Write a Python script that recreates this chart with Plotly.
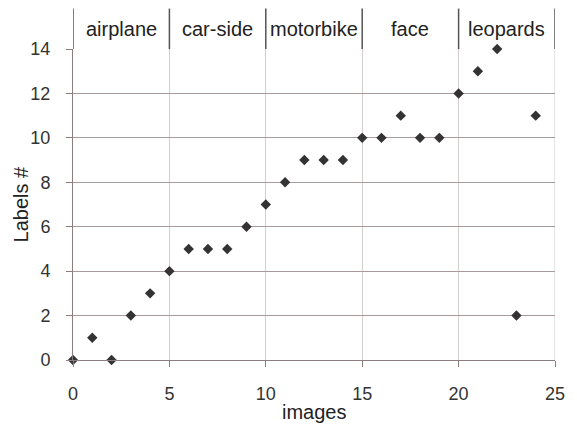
import plotly.graph_objects as go

images = list(range(25))
labels = [0, 1, 0, 2, 3, 4, 5, 5, 5, 6, 7, 8, 9, 9, 9, 10, 10, 11, 10, 10, 12, 13, 14, 2, 11]
categories = ["airplane", "car-side", "motorbike", "face", "leopards"]
cat_bounds = [0, 5, 10, 15, 20, 25]
x_ticks = [0, 5, 10, 15, 20, 25]
y_ticks = [0, 2, 4, 6, 8, 10, 12, 14]

FONT = "Liberation Sans"

fig = go.Figure()
fig.add_trace(go.Scatter(
    x=images, y=labels, mode="markers",
    marker=dict(symbol="diamond", size=8, color="#333333"),
    cliponaxis=False, showlegend=False,
))

# category separators above plot
for b in cat_bounds:
    fig.add_shape(type="line", xref="x", yref="paper", x0=b, x1=b, y0=1.0, y1=1.13,
                  line=dict(color="#555555", width=1.5))
for i, c in enumerate(categories):
    fig.add_annotation(x=(cat_bounds[i] + cat_bounds[i + 1]) / 2, y=1.065, xref="x", yref="paper",
                       text=c, showarrow=False, font=dict(family=FONT, size=20, color="#222222"),
                       xanchor="center", yanchor="middle")

fig.add_annotation(x=0.5, y=-0.168, xref="paper", yref="paper", text="images", showarrow=False,
                   font=dict(family=FONT, size=20, color="#222222"), xanchor="center", yanchor="middle")
fig.add_annotation(x=-0.108, y=0.5, xref="paper", yref="paper", text="Labels #", showarrow=False,
                   textangle=-90, font=dict(family=FONT, size=20, color="#222222"),
                   xanchor="center", yanchor="middle")

fig.update_layout(
    width=577, height=425,
    margin=dict(l=73, r=20, t=49, b=65),
    paper_bgcolor="white", plot_bgcolor="white",
    font=dict(family=FONT, size=18, color="#333333"),
    xaxis=dict(range=[0, 25], tickvals=x_ticks, showgrid=True, gridcolor="#d5cccc", gridwidth=1,
               zeroline=False, showline=True, linecolor="#8c7e7e", mirror=False,
               ticks="outside", ticklen=6, tickcolor="#8c7e7e", ticklabelstandoff=11,
               tickfont=dict(size=18, color="#333333")),
    yaxis=dict(range=[0, 14], tickvals=y_ticks, showgrid=True, gridcolor="#a89a9a", gridwidth=1,
               zeroline=False, showline=True, linecolor="#8c7e7e",
               ticks="outside", ticklen=6, tickcolor="#8c7e7e", ticklabelstandoff=12,
               tickfont=dict(size=18, color="#333333")),
)
# right border at x=25 (gridline)
fig.add_shape(type="line", xref="x", yref="paper", x0=25, x1=25, y0=0, y1=1,
              line=dict(color="#d5cccc", width=1), layer="below")

fig.write_html("out.html")
